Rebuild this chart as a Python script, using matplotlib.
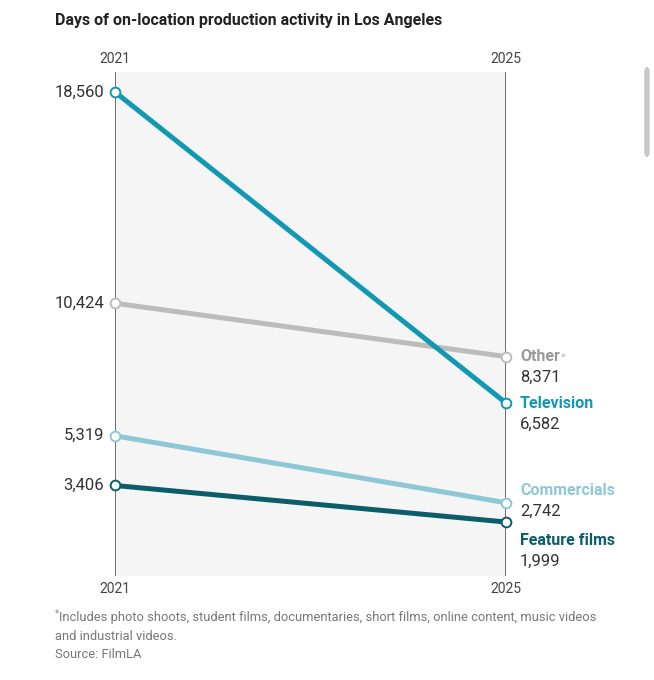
import matplotlib.pyplot as plt
from matplotlib.patches import FancyBboxPatch
from matplotlib.transforms import offset_copy

plt.rcParams['font.family'] = ['Roboto', 'DejaVu Sans']

# data
years = [2021, 2025]
categories = ['Television', 'Other', 'Commercials', 'Feature films']
start_vals = [18560, 10424, 5319, 3406]
end_vals = [6582, 8371, 2742, 1999]
colors = ['#1199b4', '#bcbcbc', '#8ec7d5', '#0b5d69']
# vertical nudge (points) for the right-hand labels so they don't collide
label_nudge = [0, 0, 8.5, -13]

fig = plt.figure(figsize=(6.54, 6.8), dpi=100)
ax = fig.add_axes([115 / 654, 1 - 576 / 680, 391 / 654, 504 / 680])
ax.set_facecolor('#f5f5f5')
ax.set_xlim(years[0], years[1])
ax.set_ylim(-80, 19330)
for s in ax.spines.values():
    s.set_visible(False)
ax.set_xticks([])
ax.set_yticks([])

for y in years:
    ax.axvline(y, color='#555555', lw=1.2, zorder=1)

# draw lines (other first so television sits on top)
order = [1, 3, 2, 0]
for i in order:
    ax.plot(years, [start_vals[i], end_vals[i]], color=colors[i], lw=3.6,
            solid_capstyle='butt', zorder=2)
    ax.plot(years, [start_vals[i], end_vals[i]], 'o', ms=7, mfc='white',
            mec=colors[i], mew=1.4, zorder=3, clip_on=False)

# left value labels
for v in start_vals:
    ax.annotate(f'{v:,}', (years[0], v), xytext=(-8, 0), textcoords='offset points',
                ha='right', va='center', fontsize=12, color='#333333')

# right labels
name_texts = []
for i, cat in enumerate(categories):
    t = ax.annotate(cat, (years[1], end_vals[i]), xytext=(10, label_nudge[i]),
                    textcoords='offset points', ha='left', va='center',
                    fontsize=11.5, fontweight='bold',
                    color=colors[i] if i != 1 else '#999999')
    name_texts.append(t)
    ax.annotate(f'{end_vals[i]:,}', (years[1], end_vals[i]),
                xytext=(10, label_nudge[i] - 15), textcoords='offset points',
                ha='left', va='center', fontsize=12, color='#333333')

# asterisk right after "Other"
fig.canvas.draw()
bb = name_texts[1].get_window_extent()
fig.text(bb.x1 + 1, bb.y1 - 3, '*', transform=None, ha='left', va='top',
         fontsize=8, color='#bbbbbb')

# year labels top and bottom
for y in years:
    ax.text(y, 1.012, str(y), transform=ax.get_xaxis_transform(), ha='center',
            va='bottom', fontsize=10, color='#444444')
    ax.text(y, -0.012, str(y), transform=ax.get_xaxis_transform(), ha='center',
            va='top', fontsize=10, color='#444444')

fig.text(55 / 654, 1 - 20 / 680, 'Days of on-location production activity in Los Angeles',
         ha='left', va='center', fontsize=11.5, fontweight='bold', color='#222222')

fig.text(55 / 654, 1 - 613 / 680, '*', ha='left', va='center', fontsize=7, color='#888888')
fig.text(59 / 654, 1 - 618 / 680,
         'Includes photo shoots, student films, documentaries, short films, online content, music videos',
         ha='left', va='center', fontsize=9.3, color='#777777')
fig.text(55 / 654, 1 - 636 / 680, 'and industrial videos.',
         ha='left', va='center', fontsize=9.3, color='#777777')
fig.text(55 / 654, 1 - 654 / 680, 'Source: FilmLA',
         ha='left', va='center', fontsize=9.3, color='#777777')

# scrollbar from the screenshot
fig.patches.append(FancyBboxPatch((645 / 654, 1 - 156 / 680), 4 / 654, 88 / 680,
                                  boxstyle='round,pad=0,rounding_size=0.004',
                                  transform=fig.transFigure, color='#c8c8c8'))

fig.savefig('out.png', dpi=100)
